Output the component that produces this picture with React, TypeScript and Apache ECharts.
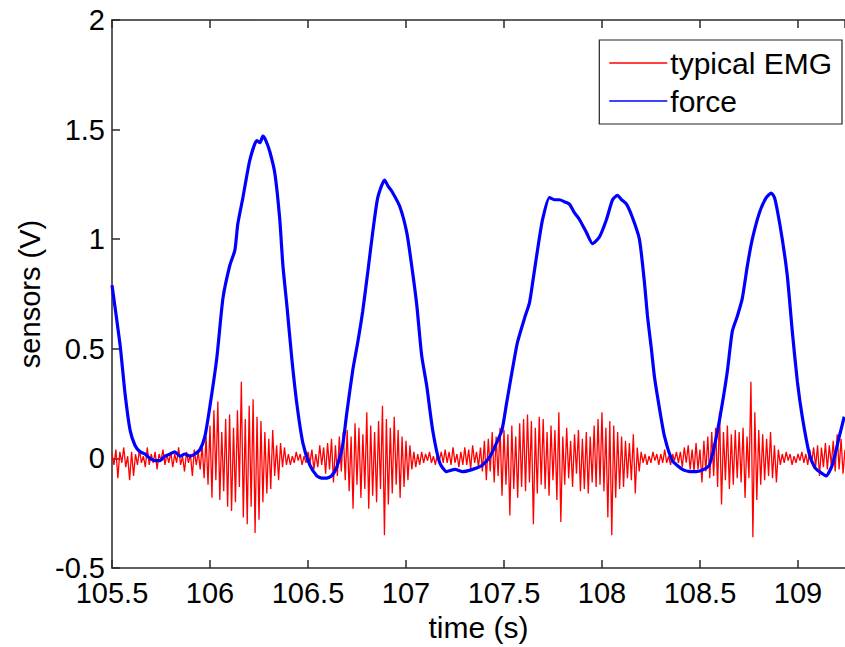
import React, { useEffect, useRef } from "react";
import * as echarts from "echarts";

// Force sensor (blue) samples: time (s) and value (V)
const forceTime = [
  105.5, 105.541, 105.566, 105.592, 105.617, 105.643, 105.668, 105.694, 105.719, 105.745, 105.77, 105.796, 105.82, 105.847, 105.872, 105.898, 105.923, 105.949, 105.974,
  106.0, 106.035, 106.066, 106.101, 106.127, 106.142, 106.168, 106.203, 106.239, 106.255, 106.27, 106.285, 106.305, 106.331, 106.356, 106.372, 106.392, 106.417, 106.443, 106.474,
  106.509, 106.545, 106.57, 106.596, 106.62, 106.647, 106.677, 106.697, 106.728, 106.754, 106.779, 106.805, 106.83, 106.856, 106.891, 106.91, 106.927, 106.968,
  107.004, 107.029, 107.055, 107.08, 107.106, 107.136, 107.172, 107.207, 107.25, 107.289, 107.34, 107.391, 107.43, 107.462, 107.49, 107.513, 107.544, 107.569, 107.605,
  107.63, 107.646, 107.671, 107.697, 107.732, 107.76, 107.783, 107.81, 107.834, 107.86, 107.885, 107.921, 107.952, 107.987, 108.023, 108.054, 108.079, 108.1, 108.125,
  108.155, 108.191, 108.217, 108.232, 108.252, 108.268, 108.293, 108.319, 108.359, 108.41, 108.45, 108.482, 108.52, 108.548, 108.584, 108.614, 108.64, 108.665, 108.691,
  108.716, 108.742, 108.767, 108.803, 108.838, 108.864, 108.88, 108.895, 108.92, 108.946, 108.971, 108.997, 109.022, 109.058, 109.085, 109.109, 109.144, 109.175, 109.211, 109.236,
];
const forceValue = [
  0.79, 0.52, 0.3, 0.13, 0.06, 0.03, 0.02, 0.0, -0.01, -0.01, 0.01, 0.02, 0.03, 0.01, 0.02, 0.01, 0.02, 0.04, 0.1,
  0.24, 0.46, 0.73, 0.88, 0.95, 1.07, 1.19, 1.36, 1.45, 1.44, 1.47, 1.45, 1.4, 1.3, 1.09, 0.88, 0.7, 0.46, 0.25, 0.07,
  -0.03, -0.08, -0.09, -0.09, -0.08, -0.04, 0.06, 0.2, 0.4, 0.53, 0.67, 0.85, 1.03, 1.19, 1.27, 1.24, 1.22, 1.15,
  1.03, 0.88, 0.7, 0.47, 0.33, 0.13, -0.02, -0.06, -0.05, -0.06, -0.05, -0.03, 0.01, 0.07, 0.13, 0.25, 0.41, 0.53, 0.64,
  0.71, 0.8, 0.95, 1.09, 1.19, 1.18, 1.18, 1.17, 1.16, 1.12, 1.09, 1.03, 0.98, 1.01, 1.09, 1.18, 1.2, 1.18, 1.16,
  1.1, 1.0, 0.8, 0.65, 0.5, 0.37, 0.23, 0.1, -0.01, -0.05, -0.06, -0.06, -0.05, -0.03, 0.1, 0.25, 0.4, 0.58, 0.65,
  0.73, 0.88, 1.0, 1.12, 1.19, 1.21, 1.19, 1.13, 1.0, 0.83, 0.58, 0.35, 0.19, 0.02, -0.04, -0.06, -0.08, -0.03, 0.1, 0.19,
];

// Typical EMG (red), one value every 0.01 s starting at 105.5 s
const emgStart = 105.5;
const emgStep = 0.01;
const emgValue = [
  0.02, -0.03, 0.04, -0.09, 0.03, -0.02, 0.05, -0.04, 0.01, -0.1,
  0.03, -0.08, 0.02, -0.03, 0.04, -0.02, 0.01, -0.04, 0.05, -0.03,
  0.02, -0.02, 0.03, -0.05, 0.02, -0.01, 0.04, -0.03, 0.02, -0.02,
  0.03, -0.04, 0.02, -0.02, 0.05, -0.03, 0.01, -0.06, 0.03, -0.02,
  0.02, -0.08, 0.04, -0.03, 0.03, -0.05, 0.06, -0.09, 0.1, -0.12,
  0.15, -0.18, 0.22, -0.1, 0.26, -0.19, 0.12, -0.15, 0.18, -0.22,
  0.2, -0.24, 0.14, -0.2, 0.22, -0.13, 0.35, -0.27, 0.18, -0.3,
  0.24, -0.22, 0.27, -0.34, 0.19, -0.28, 0.17, -0.2, 0.12, -0.16,
  0.09, -0.14, 0.13, -0.08, 0.06, -0.1, 0.07, -0.04, 0.05, -0.03,
  0.02, -0.03, 0.01, -0.02, 0.03, -0.01, 0.02, -0.03, 0.01, -0.02,
  0.03, -0.02, 0.04, -0.05, 0.02, -0.04, 0.06, -0.03, 0.05, -0.07,
  0.07, -0.05, 0.09, -0.11, 0.06, -0.08, 0.1, -0.06, 0.12, -0.1,
  0.13, -0.15, 0.1, -0.23, 0.16, -0.12, 0.14, -0.18, 0.11, -0.14,
  0.21, -0.23, 0.15, -0.17, 0.12, -0.2, 0.17, -0.14, 0.24, -0.35,
  0.18, -0.21, 0.14, -0.16, 0.19, -0.12, 0.13, -0.18, 0.1, -0.13,
  0.08, -0.1, 0.06, -0.05, 0.03, -0.04, 0.02, -0.03, 0.03, -0.02,
  0.02, -0.01, 0.03, -0.02, 0.01, -0.03, 0.02, -0.01, 0.03, -0.02,
  0.04, -0.02, 0.03, -0.03, 0.05, -0.02, 0.02, -0.04, 0.03, -0.03,
  0.05, -0.03, 0.04, -0.05, 0.06, -0.02, 0.03, -0.04, 0.05, -0.06,
  0.08, -0.1, 0.09, -0.06, 0.12, -0.11, 0.1, -0.08, 0.14, -0.17,
  0.13, -0.12, 0.11, -0.26, 0.15, -0.14, 0.1, -0.18, 0.16, -0.13,
  0.18, -0.15, 0.2, -0.11, 0.17, -0.3, 0.14, -0.16, 0.19, -0.12,
  0.18, -0.14, 0.12, -0.17, 0.15, -0.1, 0.13, -0.19, 0.21, -0.29,
  0.1, -0.12, 0.14, -0.09, 0.08, -0.13, 0.11, -0.07, 0.13, -0.15,
  0.09, -0.14, 0.12, -0.16, 0.1, -0.11, 0.15, -0.13, 0.18, -0.12,
  0.21, -0.15, 0.14, -0.27, 0.17, -0.35, 0.15, -0.18, 0.12, -0.14,
  0.1, -0.13, 0.08, -0.09, 0.07, -0.1, 0.11, -0.16, 0.05, -0.06,
  0.03, -0.02, 0.02, -0.03, 0.01, -0.02, 0.03, -0.01, 0.02, -0.03,
  0.02, -0.02, 0.04, -0.02, 0.01, -0.03, 0.02, -0.01, 0.03, -0.02,
  0.03, -0.04, 0.05, -0.02, 0.06, -0.05, 0.04, -0.06, 0.07, -0.05,
  0.04, -0.11, 0.08, -0.06, 0.1, -0.09, 0.12, -0.08, 0.14, -0.13,
  0.21, -0.21, 0.12, -0.1, 0.15, -0.14, 0.11, -0.12, 0.13, -0.09,
  0.12, -0.11, 0.14, -0.18, 0.1, -0.09, 0.35, -0.36, 0.21, -0.19,
  0.13, -0.12, 0.11, -0.1, 0.09, -0.08, 0.12, -0.09, 0.06, -0.11,
  0.04, -0.03, 0.02, -0.02, 0.03, -0.01, 0.02, -0.03, 0.01, -0.02,
  0.02, -0.01, 0.03, -0.02, 0.02, -0.03, 0.04, -0.02, 0.05, -0.04,
  0.06, -0.08, 0.05, -0.04, 0.07, -0.05, 0.06, -0.03, 0.08, -0.06,
  0.11, -0.05, 0.09, -0.07, 0.04,
];

const xTicks = { min: 105.5, max: 109.24, interval: 0.5 };
const yTicks = { min: -0.5, max: 2, interval: 0.5 };
const seriesNames = ["typical EMG", "force"];

const FONT = "Liberation Sans, Arial, Helvetica, sans-serif";

export default function App() {
  const ref = useRef<HTMLDivElement>(null);
  useEffect(() => {
    if (!ref.current) return;
    const chart = echarts.init(ref.current, undefined, { renderer: "svg" });
    const emgData = emgValue.map((v, i) => [
      +(emgStart + i * emgStep).toFixed(3),
      v,
    ]);
    const forceData = forceTime.map((t, i) => [t, forceValue[i]]);
    const axisColor = "#2a2a2a";
    chart.setOption({
      animation: false,
      backgroundColor: "#ffffff",
      grid: { left: 112, top: 20, right: 0, bottom: 70, containLabel: false },
      legend: {
        orient: "vertical",
        right: 3,
        top: 40,
        backgroundColor: "#ffffff",
        borderColor: "#222",
        borderWidth: 1.2,
        borderRadius: 0,
        padding: [8, 10, 8, 10],
        icon: "rect",
        itemWidth: 58,
        itemHeight: 1.5,
        itemGap: 8,
        data: [seriesNames[0], seriesNames[1]],
        textStyle: { fontSize: 30, fontFamily: FONT, color: "#000", padding: [0, 0, 0, -2] },
      },
      xAxis: [
        {
          type: "value",
          position: "bottom",
          min: xTicks.min,
          max: xTicks.max,
          interval: xTicks.interval,
          name: "time (s)",
          nameLocation: "middle",
          nameGap: 44,
          nameTextStyle: { fontSize: 30, fontFamily: FONT, color: "#000" },
          axisLine: { show: true, onZero: false, lineStyle: { color: axisColor, width: 1.5 } },
          axisTick: { show: true, inside: true, length: 8, lineStyle: { color: axisColor, width: 1.5 } },
          axisLabel: { fontSize: 29, fontFamily: FONT, color: "#000", margin: 10, showMaxLabel: false },
          splitLine: { show: false },
        },
        {
          type: "value",
          position: "top",
          min: xTicks.min,
          max: xTicks.max,
          interval: xTicks.interval,
          axisLine: { show: true, onZero: false, lineStyle: { color: axisColor, width: 1.5 } },
          axisTick: { show: true, inside: true, length: 8, lineStyle: { color: axisColor, width: 1.5 } },
          axisLabel: { show: false },
          splitLine: { show: false },
        },
      ],
      yAxis: {
        type: "value",
        min: yTicks.min,
        max: yTicks.max,
        interval: yTicks.interval,
        name: "sensors (V)",
        nameLocation: "middle",
        nameGap: 64,
        nameTextStyle: { fontSize: 29, fontFamily: FONT, color: "#000" },
        axisLine: { show: true, onZero: false, lineStyle: { color: axisColor, width: 1.5 } },
        axisTick: { show: true, inside: true, length: 8, lineStyle: { color: axisColor, width: 1.5 } },
        axisLabel: { fontSize: 29, fontFamily: FONT, color: "#000", margin: 7 },
        splitLine: { show: false },
      },
      series: [
        {
          name: seriesNames[0],
          type: "line",
          data: emgData,
          symbol: "none",
          lineStyle: { color: "#ff0000", width: 1.3 },
          itemStyle: { color: "#ff0000" },
          z: 2,
        },
        {
          name: seriesNames[1],
          type: "line",
          data: forceData,
          symbol: "none",
          smooth: 0.2,
          lineStyle: { color: "#0000ff", width: 3.2 },
          itemStyle: { color: "#0000ff" },
          z: 3,
        },
      ],
    });
    return () => chart.dispose();
  }, []);
  return (
    <div
      ref={ref}
      style={{ position: "absolute", left: 0, top: 0, width: 845, height: 647 }}
    />
  );
}
